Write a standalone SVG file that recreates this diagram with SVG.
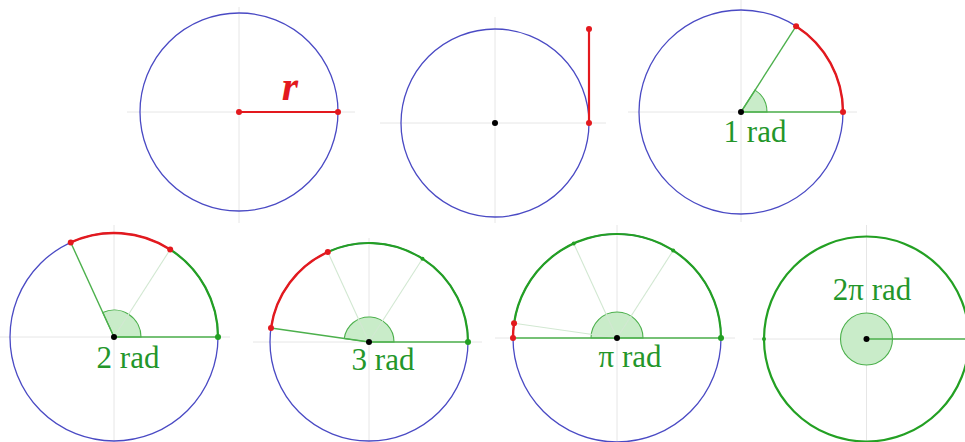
<svg xmlns="http://www.w3.org/2000/svg" width="965" height="442" viewBox="0 0 965 442">
<style>
.bg{fill:#ffffff}
.axis{stroke:#e6e6e6;stroke-width:1;fill:none}
.circ{stroke:#4a4ac4;stroke-width:1.3;fill:none}
.garc{stroke:#23a023;stroke-width:2.2;fill:none}
.rarc{stroke:#e3191e;stroke-width:2.4;fill:none}
.rline{stroke:#e3191e;stroke-width:2.2;fill:none}
.gline{stroke:#4cb04c;stroke-width:1.4;fill:none}
.fline{stroke:#d2e8d2;stroke-width:1.1;fill:none}
.wedge{fill:#c9ecc9;stroke:#4cb04c;stroke-width:1.1}
.rdot{fill:#e3191e}
.gdot{fill:#23a023}
.kdot{fill:#000000}
.lbl{font-family:"Liberation Serif","DejaVu Serif",serif;font-size:31px;fill:#23962a;text-anchor:middle}
.rl{font-family:"Liberation Serif","DejaVu Serif",serif;font-size:42px;font-style:italic;font-weight:bold;fill:#e3191e;text-anchor:middle}
</style>
<rect class="bg" x="0" y="0" width="965" height="442"/>

<g id="radius">
<line class="axis" x1="127" y1="112" x2="355" y2="112"/>
<line class="axis" x1="239" y1="7" x2="239" y2="223"/>
<circle class="circ" cx="239" cy="112" r="99"/>
<line class="rline" x1="239" y1="112" x2="338" y2="112"/>
<circle class="rdot" cx="239" cy="112" r="3"/>
<circle class="rdot" cx="338" cy="112" r="3"/>
<text class="rl" x="290" y="100">r</text>
</g>

<g id="tangent">
<line class="axis" x1="380" y1="123" x2="606" y2="123"/>
<line class="axis" x1="495" y1="17" x2="495" y2="223"/>
<circle class="circ" cx="495" cy="123" r="94"/>
<line class="rline" x1="589" y1="123" x2="589" y2="29"/>
<circle class="rdot" cx="589" cy="29" r="3"/>
<circle class="rdot" cx="589" cy="123" r="3"/>
<circle class="kdot" cx="495" cy="123" r="3"/>
</g>

<g id="rad1">
<line class="axis" x1="628" y1="112" x2="857" y2="112"/>
<line class="axis" x1="741" y1="0" x2="741" y2="222"/>
<circle class="circ" cx="741" cy="112" r="102"/>
<path class="rarc" d="M843 112 A102 102 0 0 0 796.11 26.17"/>
<path class="wedge" d="M741 112 L767 112 A26 26 0 0 0 755.05 90.12 Z"/>
<line class="gline" x1="741" y1="112" x2="843" y2="112"/>
<line class="gline" x1="741" y1="112" x2="796.11" y2="26.17"/>
<circle class="rdot" cx="843" cy="112" r="3"/>
<circle class="rdot" cx="796.11" cy="26.17" r="3"/>
<circle class="kdot" cx="741" cy="112" r="3"/>
<text class="lbl" x="755" y="142">1 rad</text>
</g>

<g id="rad2">
<line class="axis" x1="0" y1="337" x2="230" y2="337"/>
<line class="axis" x1="114" y1="225" x2="114" y2="442"/>
<circle class="circ" cx="114" cy="337" r="104"/>
<path class="garc" d="M218 337 A104 104 0 0 0 170.19 249.48"/>
<path class="rarc" d="M170.19 249.48 A104 104 0 0 0 70.72 242.43"/>
<path class="wedge" d="M114 337 L141 337 A27 27 0 0 0 102.76 312.45 Z"/>
<line class="fline" x1="114" y1="337" x2="170.19" y2="249.48"/>
<line class="gline" x1="114" y1="337" x2="70.72" y2="242.43"/>
<line class="gline" x1="114" y1="337" x2="218" y2="337"/>
<circle class="gdot" cx="218" cy="337" r="3"/>
<circle class="rdot" cx="170.19" cy="249.48" r="3"/>
<circle class="rdot" cx="70.72" cy="242.43" r="3"/>
<circle class="kdot" cx="114" cy="337" r="3"/>
<text class="lbl" x="128" y="368">2 rad</text>
</g>

<g id="rad3">
<line class="axis" x1="253" y1="342" x2="482" y2="342"/>
<line class="axis" x1="369" y1="238" x2="369" y2="442"/>
<circle class="circ" cx="369" cy="342" r="99"/>
<path class="garc" d="M468 342 A99 99 0 0 0 327.8 251.98"/>
<path class="rarc" d="M327.8 251.98 A99 99 0 0 0 270.99 328.03"/>
<path class="wedge" d="M369 342 L394 342 A25 25 0 0 0 344.25 338.47 Z"/>
<line class="fline" x1="369" y1="342" x2="422.49" y2="258.69"/>
<line class="fline" x1="369" y1="342" x2="327.8" y2="251.98"/>
<line class="gline" x1="369" y1="342" x2="270.99" y2="328.03"/>
<line class="gline" x1="369" y1="342" x2="468" y2="342"/>
<circle class="gdot" cx="468" cy="342" r="3"/>
<circle class="gdot" cx="422.49" cy="258.69" r="2"/>
<circle class="rdot" cx="327.8" cy="251.98" r="3"/>
<circle class="rdot" cx="270.99" cy="328.03" r="3"/>
<circle class="kdot" cx="369" cy="342" r="3"/>
<text class="lbl" x="383" y="370">3 rad</text>
</g>

<g id="radpi">
<line class="axis" x1="495" y1="338" x2="735" y2="338"/>
<line class="axis" x1="617" y1="225" x2="617" y2="442"/>
<circle class="circ" cx="617" cy="338" r="104"/>
<path class="garc" d="M721 338 A104 104 0 0 0 514.04 323.32"/>
<path class="rarc" d="M514.04 323.32 A104 104 0 0 0 513 338"/>
<path class="wedge" d="M617 338 L643 338 A26 26 0 0 0 591 338 Z"/>
<line class="fline" x1="617" y1="338" x2="673.19" y2="250.48"/>
<line class="fline" x1="617" y1="338" x2="573.72" y2="243.43"/>
<line class="fline" x1="617" y1="338" x2="514.04" y2="323.32"/>
<line class="gline" x1="513" y1="338" x2="721" y2="338"/>
<circle class="gdot" cx="721" cy="338" r="3"/>
<circle class="gdot" cx="673.19" cy="250.48" r="2"/>
<circle class="gdot" cx="573.72" cy="243.43" r="2"/>
<circle class="rdot" cx="514.04" cy="323.32" r="3"/>
<circle class="rdot" cx="513" cy="338" r="3"/>
<circle class="kdot" cx="617" cy="338" r="3"/>
<text class="lbl" x="630" y="367">π rad</text>
</g>

<g id="rad2pi">
<line class="axis" x1="753" y1="339" x2="965" y2="339"/>
<line class="axis" x1="866.5" y1="225" x2="866.5" y2="442"/>
<circle class="garc" cx="866.5" cy="339" r="102.5"/>
<circle class="wedge" cx="866.5" cy="339" r="26"/>
<line class="gline" x1="866.5" y1="339" x2="965" y2="339"/>
<circle class="gdot" cx="764" cy="339" r="2"/>
<circle class="kdot" cx="866.5" cy="339" r="3"/>
<text class="lbl" x="872" y="300">2π rad</text>
</g>

<g id="connectors"></g>
</svg>
